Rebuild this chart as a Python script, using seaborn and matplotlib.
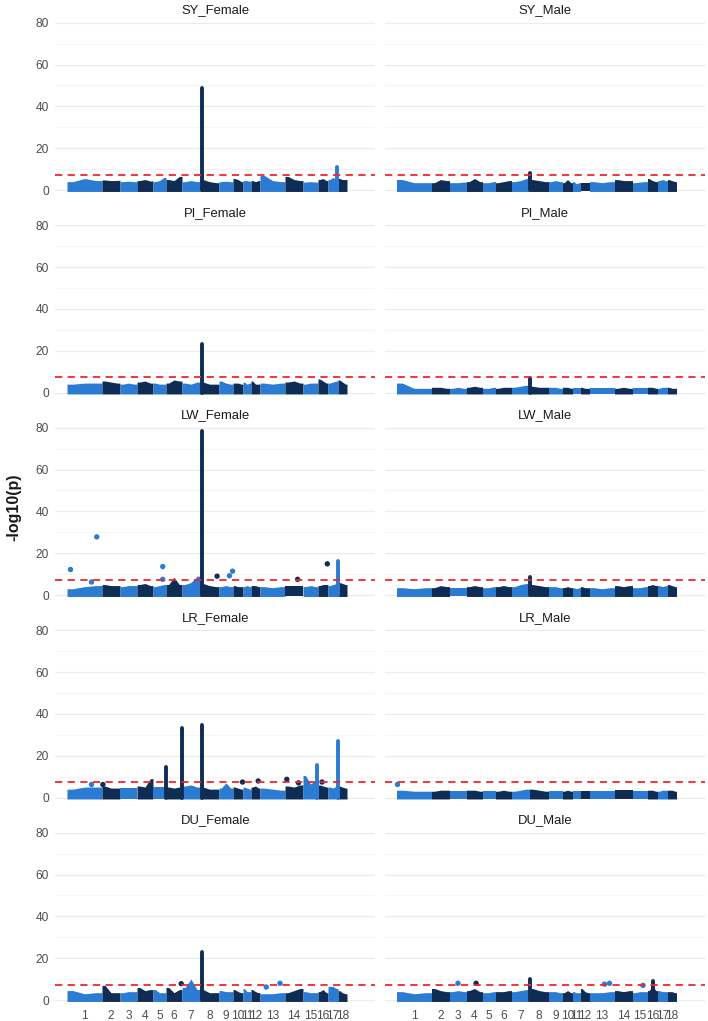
import numpy as np
import pandas as pd
import matplotlib.pyplot as plt
import seaborn as sns

# chromosome labels and their widths on the x axis
CHROMS = [str(i) for i in range(1, 19)]
CHR_SPAN = [35, 18, 17, 16, 13, 16, 18, 19, 14, 10, 8, 9, 25, 18, 15, 10, 10, 9]

BREEDS = ["SY", "PI", "LW", "LR", "DU"]
SEXES = ["Female", "Male"]
THRESHOLD = 7.3

# upper edge of the dense band of SNPs, three readings per chromosome
BAND = {
    "SY_Female": [(4.0, 5.5, 4.5), (4.8, 4.5, 4.6), (4.0, 4.2, 4.0), (4.5, 5.0, 4.3), (4.0, 4.5, 6.0),
                  (5.0, 4.5, 6.5), (4.0, 4.5, 4.0), (5.0, 4.0, 3.5), (4.0, 4.2, 4.0), (5.5, 5.0, 4.0),
                  (4.5, 4.5, 4.2), (4.5, 4.0, 4.5), (7.0, 4.5, 4.0), (6.5, 5.0, 4.5), (3.8, 4.0, 3.8),
                  (5.0, 5.5, 4.5), (5.0, 6.0, 5.0), (5.5, 5.0, 5.0)],
    "SY_Male": [(5.0, 3.5, 3.5), (3.5, 5.0, 4.5), (3.5, 3.5, 3.8), (4.0, 5.5, 4.0), (3.5, 3.5, 4.0),
                (3.5, 4.0, 4.5), (4.0, 4.5, 5.5), (5.0, 4.5, 4.0), (4.0, 4.5, 4.0), (3.5, 5.0, 3.5),
                (4.0, 3.0, 3.5), (3.5, 3.5, 3.5), (4.0, 3.5, 4.0), (5.0, 4.5, 4.5), (3.5, 3.8, 4.0),
                (5.5, 4.5, 4.0), (4.5, 5.0, 4.5), (5.0, 4.5, 4.0)],
    "PI_Female": [(4.0, 4.5, 4.5), (5.5, 5.0, 4.5), (4.0, 4.5, 4.0), (5.0, 5.5, 4.5), (4.5, 4.0, 4.0),
                  (4.5, 6.0, 5.5), (4.5, 4.0, 5.0), (5.0, 4.0, 4.0), (5.5, 4.5, 4.0), (4.5, 4.5, 4.0),
                  (5.0, 4.0, 4.5), (5.5, 4.0, 4.0), (4.5, 4.0, 4.5), (5.0, 5.5, 4.5), (4.0, 4.5, 4.5),
                  (6.5, 5.5, 4.5), (4.5, 5.0, 5.5), (6.0, 5.0, 4.0)],
    "PI_Male": [(4.5, 2.0, 2.0), (2.5, 2.5, 2.0), (2.0, 2.5, 2.0), (2.5, 3.0, 2.5), (2.0, 2.0, 2.5),
                (2.0, 2.5, 2.5), (2.5, 3.0, 3.5), (3.0, 2.5, 2.5), (2.5, 2.5, 2.0), (2.5, 2.5, 2.0),
                (2.0, 2.0, 2.0), (2.5, 2.0, 2.0), (2.0, 2.0, 2.0), (2.0, 2.5, 2.0), (2.0, 2.0, 2.0),
                (2.5, 2.5, 2.0), (2.0, 2.5, 2.5), (2.5, 2.0, 2.0)],
    "LW_Female": [(3.0, 4.0, 4.5), (5.0, 4.5, 4.5), (4.0, 4.5, 4.5), (5.0, 5.5, 4.5), (4.0, 4.5, 5.0),
                  (5.0, 8.5, 5.0), (5.0, 6.0, 9.0), (5.5, 4.5, 4.0), (4.0, 4.5, 4.0), (4.5, 4.0, 4.0),
                  (4.0, 4.5, 4.0), (4.5, 4.5, 4.0), (4.0, 3.5, 4.0), (4.5, 4.5, 4.5), (4.0, 4.5, 4.0),
                  (4.5, 5.0, 5.0), (4.5, 5.0, 5.5), (6.0, 5.5, 5.0)],
    "LW_Male": [(3.5, 3.0, 3.5), (3.5, 4.5, 4.0), (3.5, 3.5, 3.5), (4.0, 4.5, 4.0), (3.5, 3.5, 4.0),
                (4.0, 4.5, 4.0), (4.0, 5.0, 5.5), (5.0, 4.5, 4.0), (4.0, 4.0, 3.5), (3.5, 4.0, 3.5),
                (3.5, 3.0, 3.5), (4.0, 3.5, 3.5), (3.5, 3.0, 3.5), (4.5, 4.0, 4.5), (3.5, 3.5, 4.0),
                (4.5, 5.0, 4.5), (4.5, 4.0, 4.5), (5.0, 4.5, 4.0)],
    "LR_Female": [(4.0, 5.0, 5.0), (5.5, 4.5, 4.5), (4.5, 4.5, 4.5), (5.5, 5.0, 9.0), (5.0, 5.0, 5.0),
                  (5.0, 4.5, 5.0), (5.5, 6.0, 5.0), (5.0, 4.0, 4.0), (4.5, 7.0, 4.5), (5.0, 4.5, 4.0),
                  (5.0, 4.5, 4.0), (5.0, 5.5, 4.5), (4.5, 4.0, 3.5), (5.5, 5.0, 6.0), (10.5, 6.5, 8.0),
                  (6.0, 5.5, 5.0), (5.0, 4.5, 5.5), (5.5, 5.0, 4.5)],
    "LR_Male": [(3.5, 3.0, 3.0), (3.0, 3.5, 3.5), (3.0, 3.0, 3.0), (3.5, 3.5, 3.0), (3.0, 3.0, 3.0),
                (3.0, 3.5, 3.0), (3.0, 3.5, 4.0), (4.0, 3.5, 3.0), (3.0, 3.0, 3.0), (3.0, 3.5, 3.0),
                (3.0, 3.0, 3.0), (3.0, 3.0, 3.0), (3.0, 3.0, 3.0), (3.5, 3.5, 3.5), (3.0, 3.0, 3.0),
                (3.5, 3.5, 3.0), (3.0, 3.5, 3.5), (3.5, 3.5, 3.0)],
    "DU_Female": [(4.5, 3.0, 3.5), (7.0, 3.5, 3.5), (3.5, 4.0, 4.0), (6.0, 4.5, 5.0), (5.0, 3.5, 3.5),
                  (6.0, 3.5, 5.0), (6.0, 10.0, 5.0), (5.0, 3.5, 3.5), (4.5, 4.0, 4.0), (5.0, 4.0, 3.5),
                  (5.5, 4.0, 4.0), (5.0, 4.0, 3.5), (3.0, 3.0, 3.5), (3.5, 4.5, 5.5), (4.0, 3.5, 3.5),
                  (4.0, 5.0, 3.5), (6.5, 6.5, 5.5), (4.5, 3.5, 3.0)],
    "DU_Male": [(4.0, 3.0, 3.5), (5.5, 4.5, 4.0), (4.0, 4.5, 4.0), (4.5, 5.5, 4.0), (3.5, 3.5, 4.0),
                (4.0, 4.0, 4.5), (4.0, 4.5, 5.0), (5.5, 4.5, 4.0), (4.0, 4.0, 3.5), (3.5, 4.5, 3.5),
                (4.0, 3.5, 3.5), (5.5, 4.0, 3.5), (3.5, 3.5, 4.0), (4.5, 4.0, 4.5), (3.5, 4.0, 4.0),
                (4.5, 7.0, 4.5), (4.5, 4.0, 4.0), (4.0, 4.0, 3.5)],
}

# dense vertical columns of significant SNPs: (chromosome, position within it 0-1, top)
PEAK_PANEL = ["SY_Female", "SY_Female", "SY_Male", "PI_Female", "PI_Male", "LW_Female", "LW_Female",
              "LW_Male", "LR_Female", "LR_Female", "LR_Female", "LR_Female", "LR_Female", "DU_Female",
              "DU_Male", "DU_Male"]
PEAK_CHR = [8, 17, 8, 8, 8, 8, 17, 8, 6, 6, 8, 15, 17, 8, 8, 16]
PEAK_POS = [0.08, 0.95, 0.05, 0.08, 0.05, 0.08, 0.97, 0.05, 0.03, 0.97, 0.08, 0.95, 0.97, 0.08, 0.05, 0.5]
PEAK_TOP = [49.0, 11.0, 8.2, 23.0, 7.0, 78.5, 16.2, 8.5, 14.6, 33.0, 34.5, 15.4, 26.8, 23.0, 10.2, 9.0]

# isolated SNPs standing above the band
DOT_PANEL = ["LW_Female"] * 10 + ["LR_Female"] * 7 + ["LR_Male"] + ["DU_Female"] * 3 + ["DU_Male"] * 5
DOT_CHR = [1, 1, 1, 5, 5, 8, 9, 9, 14, 16,
           14, 14, 12, 10, 16, 1, 2,
           1,
           6, 13, 13,
           3, 4, 13, 13, 15]
DOT_POS = [0.1, 0.85, 0.7, 0.75, 0.75, 0.9, 0.75, 0.97, 0.7, 0.93,
           0.1, 0.75, 0.8, 0.95, 0.4, 0.7, 0.05,
           0.02,
           0.95, 0.25, 0.8,
           0.5, 0.6, 0.6, 0.8, 0.7]
DOT_VAL = [12.2, 27.8, 6.2, 13.6, 7.5, 9.0, 9.2, 11.4, 7.5, 14.9,
           8.7, 7.0, 7.9, 7.4, 7.4, 6.2, 6.2,
           6.5,
           7.8, 6.2, 8.0,
           8.0, 8.0, 7.6, 8.0, 7.0]

LIGHT = "#2B7BD3"
DARK = "#0F2C55"

sns.set_theme(style="whitegrid")
plt.rcParams["font.family"] = ["Liberation Sans", "DejaVu Sans"]

starts = np.concatenate([[0], np.cumsum(CHR_SPAN)[:-1]])
centers = starts + np.array(CHR_SPAN) / 2.0
chr_color = [LIGHT if i % 2 == 0 else DARK for i in range(len(CHROMS))]

peaks = pd.DataFrame({"panel": PEAK_PANEL, "chr": PEAK_CHR, "pos": PEAK_POS, "top": PEAK_TOP})
peaks["x"] = starts[peaks["chr"] - 1] + peaks["pos"] * np.array(CHR_SPAN)[peaks["chr"] - 1]
dots = pd.DataFrame({"panel": DOT_PANEL, "chr": DOT_CHR, "pos": DOT_POS, "val": DOT_VAL})
dots["x"] = starts[dots["chr"] - 1] + dots["pos"] * np.array(CHR_SPAN)[dots["chr"] - 1]
dots["col"] = [chr_color[c - 1] for c in dots["chr"]]

W, H = 708, 1021
fig = plt.figure(figsize=(W / 100, H / 100), dpi=100)

for r, breed in enumerate(BREEDS):
    for c, sex in enumerate(SEXES):
        name = f"{breed}_{sex}"
        left = [55, 384.5][c]
        top = 17.7 + r * 202.5
        ax = fig.add_axes([left / W, 1 - (top + 180.5) / H, 320.5 / W, 180.5 / H])

        # dense band, one filled profile per chromosome
        for i, (s, w) in enumerate(zip(starts, CHR_SPAN)):
            hs = BAND[name][i]
            xs = [s, s + w / 6, s + w / 2, s + 5 * w / 6, s + w]
            ys = [hs[0], hs[0], hs[1], hs[2], hs[2]]
            ax.fill_between(xs, -0.7, ys, color=chr_color[i], lw=0)

        pk = peaks[peaks["panel"] == name]
        for _, p in pk.iterrows():
            ax.vlines(p["x"], 0, p["top"], color=chr_color[p["chr"] - 1], lw=2.8, capstyle="round")

        dt = dots[dots["panel"] == name]
        if len(dt):
            sns.scatterplot(data=dt, x="x", y="val", hue="col", palette={LIGHT: LIGHT, DARK: DARK},
                            s=15, linewidth=0, legend=False, ax=ax, zorder=3)

        ax.axhline(THRESHOLD, color="#F0262A", lw=1.3, ls=(0, (4, 3)), zorder=4)

        ax.set_xlim(-12, 308.5)
        ax.set_ylim(-3.92, 82.39)
        ax.set_yticks([0, 20, 40, 60, 80])
        ax.set_yticks([10, 30, 50, 70], minor=True)
        ax.grid(axis="x", visible=False)
        ax.grid(axis="y", which="major", color="#EBEBEB", lw=0.9)
        ax.grid(axis="y", which="minor", color="#F2F2F2", lw=0.6)
        for sp in ax.spines.values():
            sp.set_visible(False)
        ax.set_xlabel("")
        ax.set_ylabel("")
        ax.set_xticks(centers)
        ax.tick_params(length=0, labelsize=8.6, labelcolor="#4D4D4D", pad=4.5)
        if r == len(BREEDS) - 1:
            ax.set_xticklabels(CHROMS)
            ax.tick_params(axis="x", pad=1)
        else:
            ax.set_xticklabels([])
        if c == 1:
            ax.set_yticklabels([])
        ax.set_title(name, fontsize=9.4, color="#1A1A1A", pad=3)

fig.text(14 / W, 1 - 507 / H, "-log10(p)", rotation=90, fontsize=11.5, fontweight="bold",
         color="#1A1A1A", ha="center", va="center")

fig.savefig("out.png", dpi=100)
